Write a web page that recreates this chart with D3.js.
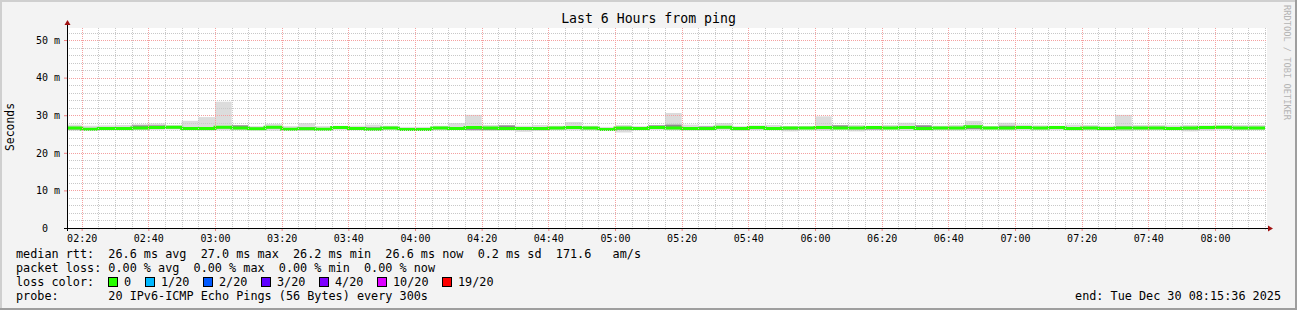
<!DOCTYPE html>
<html>
<head>
<meta charset="utf-8">
<script src="https://cdn.jsdelivr.net/npm/d3@7"></script>
<style>
body { margin: 0; background: #f3f3f3; }
text { font-family: "DejaVu Sans Mono", monospace; white-space: pre; }
</style>
</head>
<body>
<div id="chart"></div>
<script>
// median rtt per 5 minute step (ms), 02:15 .. 08:10
var medianRtt = [26.6, 26.3, 26.5, 26.5, 26.6, 26.7, 26.8, 26.5, 26.5, 26.8, 26.6, 26.4,
    26.8, 26.3, 26.4, 26.3, 26.7, 26.5, 26.3, 26.6, 26.2, 26.2, 26.6, 26.5,
    26.7, 26.6, 26.5, 26.5, 26.5, 26.6, 26.7, 26.6, 26.2, 26.6, 26.5, 26.7,
    26.6, 26.5, 26.5, 26.8, 26.5, 26.7, 26.5, 26.6, 26.6, 26.7, 26.6, 26.6,
    26.7, 26.6, 26.7, 26.5, 26.6, 26.6, 26.9, 26.6, 26.6, 26.7, 26.6, 26.7,
    26.5, 26.6, 26.5, 26.6, 26.6, 26.6, 26.5, 26.6, 26.7, 26.8, 26.6, 26.6];

// smoke: slowest ping
var smokeHi = [27.5, 27.2, 27.3, 27.4, 27.6, 27.8, 27.4, 28.5, 29.5, 33.6, 27.4, 27.1,
    27.7, 27.1, 27.9, 27.1, 27.2, 27.2, 27.5, 27.2, 26.9, 26.9, 27.2, 27.9,
    30.1, 27.4, 27.3, 27.2, 27.4, 27.2, 28.2, 27.2, 26.9, 27.4, 27.1, 27.4,
    30.6, 27.5, 27.2, 27.9, 27.1, 27.3, 27.4, 27.1, 27.1, 29.7, 27.4, 27.4,
    27.2, 27.4, 28.0, 27.4, 27.2, 27.4, 28.5, 27.1, 28.0, 27.5, 27.3, 27.2,
    27.5, 27.4, 27.2, 30.1, 27.4, 27.4, 27.3, 27.4, 27.3, 27.3, 27.4, 27.4];

// smoke: fastest ping
var smokeLo = [25.9, 25.9, 26.0, 26.0, 26.1, 26.1, 26.2, 26.0, 25.9, 26.0, 26.0, 26.0,
    25.9, 25.9, 25.8, 26.0, 26.1, 26.0, 25.9, 26.1, 25.9, 25.9, 26.0, 26.1,
    25.8, 25.8, 25.9, 25.6, 25.8, 26.0, 26.0, 26.0, 25.9, 25.4, 26.0, 26.1,
    26.0, 25.9, 25.9, 26.1, 25.8, 26.0, 26.0, 25.7, 26.0, 25.9, 26.1, 25.7,
    26.0, 26.1, 25.8, 25.9, 26.0, 25.9, 26.0, 26.1, 26.0, 26.0, 26.0, 26.0,
    25.9, 26.0, 25.9, 25.8, 26.0, 26.0, 26.0, 25.7, 25.9, 26.1, 26.0, 26.0];

// smoke: dense middle of the pings
var coreHi = [26.9, 26.6, 26.8, 26.8, 27.3, 27.3, 27.0, 26.8, 26.8, 27.1, 27.3, 26.7,
    27.1, 26.6, 26.8, 26.6, 27.0, 26.8, 26.8, 26.9, 26.5, 26.5, 26.9, 26.8,
    27.0, 26.9, 27.3, 26.8, 26.8, 26.9, 27.0, 26.9, 26.5, 26.9, 26.8, 27.3,
    27.5, 26.8, 27.0, 27.1, 26.8, 27.0, 26.8, 26.9, 26.9, 27.0, 27.3, 26.9,
    27.0, 26.9, 27.0, 27.3, 26.9, 26.9, 27.2, 26.9, 27.2, 27.0, 26.9, 27.0,
    26.8, 26.9, 26.8, 27.0, 26.9, 26.9, 26.8, 26.9, 27.0, 27.1, 26.9, 26.9];

var coreLo = [26.2, 26.1, 26.3, 26.3, 26.3, 26.4, 26.5, 26.3, 26.2, 26.5, 26.3, 26.2,
    26.5, 26.1, 26.1, 26.1, 26.4, 26.2, 26.0, 26.4, 26.0, 26.0, 26.3, 26.3,
    26.1, 26.1, 26.2, 26.2, 26.1, 26.3, 26.4, 26.3, 26.0, 26.1, 26.3, 26.4,
    26.3, 26.2, 26.1, 26.5, 26.2, 26.3, 26.3, 26.2, 26.4, 26.3, 26.4, 26.3,
    26.2, 26.4, 26.4, 26.2, 26.3, 26.3, 26.3, 26.4, 26.3, 26.4, 26.3, 26.4,
    26.2, 26.3, 26.2, 26.3, 26.3, 26.3, 26.2, 26.2, 26.3, 26.5, 26.3, 26.3];

var yTicks = [0, 10, 20, 30, 40, 50];

var legendRows = [
    'median rtt:  26.6 ms avg  27.0 ms max  26.2 ms min  26.6 ms now  0.2 ms sd  171.6   am/s',
    'packet loss: 0.00 % avg  0.00 % max  0.00 % min  0.00 % now',
    'loss color:',
    'probe:       20 IPv6-ICMP Echo Pings (56 Bytes) every 300s'
];
var lossLabels = ['0', '1/20', '2/20', '3/20', '4/20', '10/20', '19/20'];
var lossColors = ['#26ff00', '#00b8ff', '#0059ff', '#5e00ff', '#7e00ff', '#dd00ff', '#ff0000'];

var width = 1297, height = 310;
var pLeft = 67, pRight = 1267, pTop = 28, pBottom = 228;

var start = new Date(2025, 11, 30, 2, 15, 36);
var end = new Date(2025, 11, 30, 8, 15, 36);
var bins = d3.timeMinute.every(5).range(new Date(2025, 11, 30, 2, 15), new Date(2025, 11, 30, 8, 15));

var x = d3.scaleTime().domain([start, end]).range([pLeft, pRight]);
var y = d3.scaleLinear().domain([0, 53.2]).range([pBottom, pTop]);

var svg = d3.select('#chart')
    .append('svg')
        .attr('width', width)
        .attr('height', height);

svg.append('rect')
    .attr('width', width).attr('height', height)
    .attr('fill', '#f3f3f3');

// frame: light top/left, dark bottom/right
svg.append('path').attr('d', 'M1,' + height + 'V1H' + width)
    .attr('fill', 'none').attr('stroke', '#cfcfcf').attr('stroke-width', 2);
svg.append('path').attr('d', 'M0,' + (height - 1) + 'H' + (width - 1) + 'V0')
    .attr('fill', 'none').attr('stroke', '#9e9e9e').attr('stroke-width', 2);

svg.append('rect')
    .attr('x', pLeft).attr('y', pTop)
    .attr('width', pRight - pLeft).attr('height', pBottom - pTop)
    .attr('fill', '#ffffff');

svg.append('clipPath').attr('id', 'plot')
    .append('rect')
    .attr('x', pLeft).attr('y', pTop)
    .attr('width', pRight - pLeft).attr('height', pBottom - pTop);

var plot = svg.append('g').attr('clip-path', 'url(#plot)');

function binX(i) { return x(bins[i]); }
function binW(i) { return x(d3.timeMinute.offset(bins[i], 5)) - x(bins[i]); }

// smoke
plot.selectAll('.smoke')
    .data(bins)
    .enter()
    .append('rect')
    .classed('smoke', true)
    .attr('x', (d, i) => binX(i))
    .attr('width', (d, i) => binW(i))
    .attr('y', (d, i) => y(smokeHi[i]))
    .attr('height', (d, i) => y(smokeLo[i]) - y(smokeHi[i]))
    .attr('fill', '#dcdcdc');

plot.selectAll('.core')
    .data(bins)
    .enter()
    .append('rect')
    .classed('core', true)
    .attr('x', (d, i) => binX(i))
    .attr('width', (d, i) => binW(i))
    .attr('y', (d, i) => y(coreHi[i]))
    .attr('height', (d, i) => y(coreLo[i]) - y(coreHi[i]))
    .attr('fill', '#8c8c8c');

// grid
var grid = svg.append('g').attr('fill', 'none').attr('stroke-width', 1);

var minorT = x.ticks(d3.timeMinute.every(5)).filter(t => t.getMinutes() % 20 !== 0);
var majorT = x.ticks(d3.timeMinute.every(20));

grid.selectAll('.vminor')
    .data(minorT)
    .enter()
    .append('line')
    .attr('x1', d => Math.round(x(d)) + 0.5).attr('x2', d => Math.round(x(d)) + 0.5)
    .attr('y1', pTop).attr('y2', pBottom)
    .attr('stroke', '#c8c8c8')
    .attr('stroke-dasharray', '1,1');

var hMinor = d3.range(2, 53, 2).filter(v => v % 10 !== 0);
grid.selectAll('.hminor')
    .data(hMinor)
    .enter()
    .append('line')
    .attr('x1', pLeft).attr('x2', pRight)
    .attr('y1', d => Math.round(y(d)) + 0.5).attr('y2', d => Math.round(y(d)) + 0.5)
    .attr('stroke', '#c8c8c8')
    .attr('stroke-dasharray', '1,1');

grid.selectAll('.vmajor')
    .data(majorT)
    .enter()
    .append('line')
    .attr('x1', d => Math.round(x(d)) + 0.5).attr('x2', d => Math.round(x(d)) + 0.5)
    .attr('y1', pTop).attr('y2', pBottom)
    .attr('stroke', '#f4a0a0')
    .attr('stroke-dasharray', '1,1');

grid.selectAll('.hmajor')
    .data(yTicks.filter(v => v > 0))
    .enter()
    .append('line')
    .attr('x1', pLeft).attr('x2', pRight)
    .attr('y1', d => Math.round(y(d)) + 0.5).attr('y2', d => Math.round(y(d)) + 0.5)
    .attr('stroke', '#f4a0a0')
    .attr('stroke-dasharray', '1,1');

// median line, coloured by loss (all 0 here)
var pts = bins.map((d, i) => [d, medianRtt[i]]);
pts.push([d3.timeMinute.offset(bins[bins.length - 1], 5), medianRtt[medianRtt.length - 1]]);

plot.append('path')
    .datum(pts)
    .attr('d', d3.line().x(d => x(d[0])).y(d => y(d[1])).curve(d3.curveStepAfter))
    .attr('fill', 'none')
    .attr('stroke', lossColors[0])
    .attr('stroke-width', 3);

// axes
var xMinorAxis = svg.append('g')
    .attr('transform', 'translate(0,' + pBottom + ')')
    .call(d3.axisBottom(x).tickValues(minorT).tickSize(2).tickFormat(''));
xMinorAxis.select('.domain').remove();
xMinorAxis.selectAll('line').attr('stroke', '#c8c8c8');

var xAxis = svg.append('g')
    .attr('transform', 'translate(0,' + pBottom + ')')
    .call(d3.axisBottom(x).ticks(d3.timeMinute.every(20)).tickSize(3).tickPadding(4)
        .tickFormat(d3.timeFormat('%H:%M')));
xAxis.select('.domain').remove();
xAxis.selectAll('line').attr('stroke', '#f08080');
xAxis.selectAll('text')
    .attr('font-family', 'DejaVu Sans Mono')
    .attr('font-size', 10)
    .attr('fill', '#000');

var yAxis = svg.append('g')
    .attr('transform', 'translate(' + pLeft + ',0)')
    .call(d3.axisLeft(y).tickValues(yTicks).tickSize(3).tickPadding(4)
        .tickFormat(d => d === 0 ? '0\u00a0\u00a0' : d + '\u00a0m'));
yAxis.select('.domain').remove();
yAxis.selectAll('line').attr('stroke', '#f08080');
yAxis.selectAll('text')
    .attr('font-family', 'DejaVu Sans Mono')
    .attr('font-size', 10)
    .attr('fill', '#000');

svg.append('line')
    .attr('x1', pLeft - 3).attr('x2', pRight + 2)
    .attr('y1', pBottom + 0.5).attr('y2', pBottom + 0.5)
    .attr('stroke', '#000');
svg.append('line')
    .attr('x1', pLeft + 0.5).attr('x2', pLeft + 0.5)
    .attr('y1', pBottom + 3).attr('y2', pTop - 4)
    .attr('stroke', '#000');
svg.append('path')
    .attr('d', 'M' + (pRight + 1) + ',' + (pBottom - 2.5) + 'l5,3l-5,3z')
    .attr('fill', '#a01010');
svg.append('path')
    .attr('d', 'M' + (pLeft - 2.5) + ',' + (pTop - 3) + 'l3,-5l3,5z')
    .attr('fill', '#a01010');

// titles
svg.append('text')
    .attr('x', width / 2).attr('y', 23)
    .attr('text-anchor', 'middle')
    .attr('font-size', 13.2)
    .text('Last 6 Hours from ping');

svg.append('text')
    .attr('transform', 'translate(14,127) rotate(-90)')
    .attr('text-anchor', 'middle')
    .attr('font-size', 11.4)
    .text('Seconds');

svg.append('text')
    .attr('transform', 'translate(1284,5) rotate(90)')
    .attr('font-size', 8.7)
    .attr('fill', '#b4b4b4')
    .text('RRDTOOL / TOBI OETIKER');

// legend
svg.selectAll('.legend')
    .data(legendRows)
    .enter()
    .append('text')
    .classed('legend', true)
    .attr('x', 16)
    .attr('y', (d, i) => 258 + i * 14)
    .attr('font-size', 11.8)
    .text(d => d.replace(/ /g, '\u00a0'));

var sx = 108;
lossLabels.forEach((lab, i) => {
    svg.append('rect')
        .attr('x', sx + 0.5).attr('y', 277.5)
        .attr('width', 9).attr('height', 9)
        .attr('fill', lossColors[i])
        .attr('stroke', '#000');
    svg.append('text')
        .attr('x', sx + 16).attr('y', 286)
        .attr('font-size', 11.8)
        .text(lab);
    sx += 16 + lab.length * 7 + 14;
});

svg.append('text')
    .attr('x', 1281).attr('y', 300)
    .attr('text-anchor', 'end')
    .attr('font-size', 11.8)
    .text('end: Tue Dec 30 08:15:36 2025');
</script>
</body>
</html>
